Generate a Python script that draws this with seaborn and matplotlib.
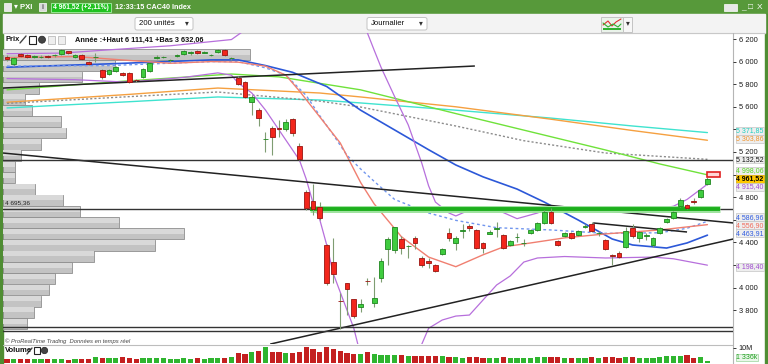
import matplotlib
matplotlib.use("Agg")
import matplotlib.pyplot as plt
import matplotlib.transforms as mtransforms
from matplotlib.patches import Rectangle, FancyBboxPatch, Circle
import numpy as np
import pandas as pd
import seaborn as sns

W, H = 768, 364

# ---------------- data (CAC40 daily) ----------------
opens = [6040, 5979, 6067, 6058, 6045, 6041, 6050, 6055, 6067, 6090,
         6045, 6058, 5996, 6040, 5926, 5890, 5917, 5899, 5899, 5840,
         5864, 5917, 6035, 6041, 6010, 6050, 6067, 6080, 6094, 6080,
         6055, 6085, 6105, 6030, 5855, 5819, 5642, 5572, 5315, 5412,
         5408, 5404, 5492, 5253, 4846, 4766, 4713, 4377, 4226, 3885,
         4041, 3899, 3828, 4062, 3864, 4085, 4342, 4333, 4430, 4365,
         4439, 4262, 4235, 4200, 4297, 4483, 4395, 4505, 4545, 4510,
         4395, 4474, 4522, 4465, 4377, 4448, 4395, 4483, 4510, 4572,
         4670, 4412, 4457, 4483, 4465, 4540, 4563, 4483, 4421, 4285,
         4306, 4359, 4527, 4439, 4457, 4377, 4483, 4580, 4616, 4722,
         4730, 4766, 4802, 4917]
closes = [6023, 6032, 6050, 6041, 6050, 6045, 6043, 6060, 6103, 6080,
          6055, 6023, 5979, 6043, 5864, 5926, 5952, 5881, 5819, 5837,
          5934, 5988, 6041, 6043, 6014, 6058, 6095, 6085, 6076, 6085,
          6060, 6105, 6058, 6032, 5802, 5687, 5687, 5501, 5318, 5333,
          5400, 5465, 5368, 5138, 4704, 4696, 4616, 4041, 4120, 3881,
          3988, 3749, 3855, 4054, 3908, 4235, 4430, 4536, 4350, 4370,
          4395, 4200, 4218, 4147, 4342, 4439, 4439, 4510, 4527, 4350,
          4350, 4492, 4527, 4350, 4412, 4450, 4398, 4510, 4572, 4670,
          4572, 4377, 4483, 4439, 4500, 4545, 4501, 4486, 4342, 4280,
          4271, 4501, 4457, 4492, 4460, 4439, 4527, 4607, 4670, 4775,
          4704, 4760, 4864, 4961.52]
highs = [6060, 6045, 6078, 6066, 6062, 6055, 6060, 6070, 6110, 6098,
         6065, 6070, 6005, 6075, 5935, 5935, 5960, 5910, 5905, 5850,
         5940, 5995, 6055, 6052, 6025, 6068, 6102, 6095, 6100, 6092,
         6068, 6111, 6108, 6045, 5870, 5825, 5700, 5590, 5380, 5430,
         5480, 5490, 5500, 5280, 4860, 4920, 4760, 4390, 4440, 3952,
         4045, 3900, 3900, 4085, 4094, 4260, 4450, 4540, 4460, 4375,
         4460, 4280, 4260, 4210, 4350, 4530, 4455, 4560, 4560, 4520,
         4400, 4510, 4580, 4470, 4420, 4480, 4430, 4520, 4580, 4690,
         4700, 4420, 4490, 4490, 4510, 4560, 4580, 4500, 4430, 4300,
         4320, 4540, 4560, 4500, 4480, 4450, 4535, 4615, 4680, 4790,
         4740, 4790, 4870, 4980]
lows = [6005, 5965, 6040, 6030, 6035, 6030, 6032, 6045, 6060, 6070,
        6035, 6015, 5970, 6000, 5850, 5880, 5905, 5870, 5810, 5820,
        5855, 5905, 6025, 6030, 5998, 6040, 6060, 6060, 6068, 6072,
        6048, 6078, 6050, 6010, 5790, 5675, 5530, 5430, 5200, 5170,
        5330, 5390, 5340, 5130, 4690, 4640, 4600, 4020, 4040, 3632,
        3760, 3730, 3780, 4020, 3830, 4050, 4200, 4310, 4300, 4260,
        4340, 4180, 4170, 4140, 4290, 4410, 4330, 4440, 4500, 4340,
        4310, 4470, 4450, 4340, 4370, 4400, 4370, 4470, 4500, 4560,
        4560, 4370, 4450, 4430, 4455, 4530, 4490, 4460, 4335, 4200,
        4260, 4350, 4440, 4400, 4420, 4360, 4475, 4570, 4605, 4715,
        4695, 4740, 4795, 4910]
volumes = [2.6, 2.8, 2.4, 2.7, 2.5, 2.6, 2.9, 2.6, 2.5, 2.2,
           2.4, 2.6, 2.9, 4.3, 3.3, 3.3, 3.2, 3.8, 3.4, 2.9,
           3.2, 3.5, 3.1, 3.3, 2.8, 3.0, 3.4, 3.0, 3.2, 2.9,
           3.1, 3.5, 3.6, 3.9, 6.4, 6.0, 7.1, 7.9, 10.5, 7.6,
           7.1, 6.7, 6.4, 7.1, 10.7, 9.5, 7.1, 10.5, 9.5, 8.3,
           6.7, 6.0, 6.0, 7.6, 6.0, 5.5, 5.6, 5.4, 5.5, 4.8,
           4.9, 4.6, 4.7, 4.8, 4.5, 3.9, 3.7, 3.6, 3.8, 4.0,
           3.5, 3.4, 3.6, 3.9, 3.3, 3.5, 3.2, 3.6, 3.8, 4.1,
           4.0, 3.7, 3.4, 3.5, 3.3, 3.6, 3.9, 3.4, 3.8, 4.0,
           3.6, 4.2, 3.9, 3.5, 3.3, 3.6, 3.8, 4.6, 4.9, 4.7,
           5.5, 3.6, 4.0, 1.336]

# volume-by-price profile (25 bins between yearly low and high), top bin first
year_high = 6111.41
year_low = 3632.06
profile_volume = [247, 112, 79, 36, 22, 29, 58, 63, 38, 18, 12, 12, 32,
                  60, 77, 116, 181, 152, 91, 69, 52, 46, 38, 31, 24]

# indicator lines: (candle index, price)
ma20_idx = [0, 10, 18, 24, 30, 34, 38, 41, 43, 46, 49, 52, 54, 58, 62, 66, 70, 73, 77, 82, 88, 96, 103]
ma20_val = [6035, 6045, 6010, 5985, 6000, 5995, 5960, 5880, 5740, 5510, 5280, 4930, 4740, 4450,
            4270, 4185, 4290, 4360, 4395, 4440, 4475, 4510, 4557]
ma50_idx = [0, 15, 30, 34, 38, 42, 47, 52, 57, 62, 66, 70, 75, 79, 84, 89, 92, 97, 100, 103]
ma50_val = [5950, 5980, 6015, 6015, 5965, 5905, 5780, 5570, 5395, 5220, 5085, 4980, 4872, 4757,
            4598, 4430, 4377, 4350, 4395, 4464]
ema_idx = [0, 15, 30, 34, 38, 41, 44, 46, 48, 50, 52, 54, 57, 62, 66, 72, 80, 88, 96, 100, 103]
ema_val = [5960, 5965, 6000, 6000, 5945, 5880, 5700, 5520, 5350, 5170, 5050, 4940, 4780, 4660,
           4595, 4530, 4510, 4480, 4485, 4525, 4587]
ma100_idx = [0, 18, 33, 40, 52, 66, 80, 88, 96, 103]
ma100_val = [5750, 5830, 5890, 5865, 5750, 5540, 5335, 5218, 5094, 4998.06]
orange_idx = [0, 18, 31, 46, 52, 66, 80, 92, 103]
orange_val = [5640, 5710, 5766, 5722, 5687, 5600, 5490, 5390, 5303.86]
cyan_idx = [0, 18, 31, 46, 52, 66, 80, 92, 103]
cyan_val = [5590, 5645, 5687, 5660, 5634, 5570, 5500, 5430, 5371.85]
gray_idx = [0, 18, 31, 46, 52, 66, 76, 88, 103]
gray_val = [5630, 5690, 5731, 5650, 5598, 5430, 5300, 5191, 5135]
bb_up_idx = [0, 8, 14, 24, 33, 35, 37, 40, 47, 52, 53, 54, 55, 57, 59, 61, 62, 63, 65, 66, 68,
             72, 75, 78, 80, 90, 96, 98, 100, 102, 103]
bb_up_val = [6070, 6075, 6100, 6140, 6195, 6280, 6450, 6800, 7200, 6500, 6253, 6100, 5950, 5690,
             5440, 5100, 4900, 4757, 4660, 4634, 4687, 4690, 4610, 4660, 4710, 4710, 4700, 4720,
             4780, 4870, 4915.40]
bb_lo_idx = [0, 10, 17, 20, 26, 31, 33, 34, 36, 38, 41, 43, 44, 45, 46, 47, 48, 50, 51, 52, 56,
             60, 61, 62, 64, 66, 68, 70, 72, 74, 76, 78, 82, 88, 95, 98, 103]
bb_lo_val = [5850, 5840, 5820, 5830, 5860, 5900, 5880, 5810, 5722, 5572, 5306, 5129, 4960, 4750,
             4600, 4380, 4120, 3800, 3640, 3400, 3000, 3200, 3500, 3640, 3713, 3748, 3757, 3890,
             4023, 4103, 4226, 4262, 4275, 4262, 4270, 4255, 4198.40]

# drawn trend lines and levels (index, price)
trend_top_idx = [-0.6, 68.8]
trend_top_val = [5766, 5961]
trend_down_idx = [-0.6, 106.8]
trend_down_val = [5191, 4572]
trend_support_idx = [38.7, 106.8]
trend_support_val = [3500, 4430]
trend_short_idx = [86.2, 100.0]
trend_short_val = [4572, 4492]
levels = [5132.52, 4695.36, 3652, 3615]
green_zone = 4695.36
green_zone_idx = [44.6, 104.9]

# right-hand value tags: (text, colour)
tag_texts = ["5 371,85", "5 303,86", "5 132,52", "4 998,06", "4 961,52",
             "4 915,40", "4 586,96", "4 556,90", "4 463,91", "4 198,40"]
tag_colors = ["#1fd0c0", "#f0922a", "#111111", "#55d41e", "#000000",
              "#a04ad0", "#2f5be0", "#f06a5a", "#2f5be0", "#a04ad0"]
# where the platform stacks the tags on the price scale (spread apart to avoid overlap)
tag_pos = [5388, 5317, 5132.52, 5032, 4961.52, 4890, 4624, 4553, 4482, 4182]

# ---------------- styling ----------------
sns.set_theme(style="white")
plt.rcParams['font.family'] = ['Liberation Sans', 'DejaVu Sans']

fig = plt.figure(figsize=(W / 100, H / 100), dpi=100)
fig.patch.set_facecolor("white")


def px_axes(x0, y0, x1, y1):
    return fig.add_axes([x0 / W, 1 - y1 / H, (x1 - x0) / W, (y1 - y0) / H])


# background / chrome in pixel coordinates
bg = px_axes(0, 0, W, H)
bg.set_xlim(0, W)
bg.set_ylim(H, 0)
bg.axis("off")
bg.set_zorder(-5)
bg.add_patch(Rectangle((0, 0), W, 14, color="#57993a"))
bg.add_patch(Rectangle((0, 14), 3, H - 14, color="#4f8d33"))
bg.add_patch(Rectangle((765, 14), 3, H - 14, color="#4f8d33"))
bg.add_patch(Rectangle((3, 14), 762, 19, color="#f3f3f3"))
bg.plot([3, 765], [33, 33], color="#c8c8c8", lw=0.8)
bg.plot([3, 733], [344.5, 344.5], color="#bdbdbd", lw=0.8)
bg.plot([733, 733], [33, 364], color="#b5b5b5", lw=0.8)

# top bar
bg.add_patch(Rectangle((4, 3), 7, 8, fc="#e6e6e6", ec="#ffffff", lw=0.5))
bg.text(14, 7.3, "▾ PXI", color="white", fontsize=5.6, va="center", fontweight="bold")
bg.add_patch(Rectangle((39, 3), 7, 8, fc="#d9d9d9", ec="#ffffff", lw=0.5))
bg.text(42.5, 7.3, "i", color="#555555", fontsize=5, va="center", ha="center", fontweight="bold")
bg.add_patch(Rectangle((51, 2.5), 60, 9.5, fc="#1fc21f", ec="#a6f0a6", lw=0.6))
bg.text(81, 7.4, "4 961,52 (+2,11%)", color="white", fontsize=4.9, va="center", ha="center",
        fontweight="bold")
bg.text(115, 7.4, "12:33:15 CAC40 Index", color="white", fontsize=5.2, va="center", fontweight="bold")
bg.add_patch(Rectangle((724, 4), 13, 7, fc="#e8e8e8", ec="#ffffff", lw=0.5))
bg.text(741, 7.6, "_", color="white", fontsize=6, va="center")
bg.text(748, 7.6, "□", color="white", fontsize=6, va="center")
bg.text(757, 7.6, "X", color="white", fontsize=6, va="center")

# toolbar
bg.add_patch(FancyBboxPatch((135, 17.5), 58, 12.5, boxstyle="round,pad=0,rounding_size=2",
                            fc="white", ec="#c3c3c3", lw=0.7))
bg.text(139, 23.9, "200 unités", fontsize=5.6, va="center", color="#111111")
bg.text(187, 23.9, "▾", fontsize=5.5, va="center", ha="center", color="#333333")
bg.add_patch(FancyBboxPatch((367, 17.5), 60, 12.5, boxstyle="round,pad=0,rounding_size=2",
                            fc="white", ec="#c3c3c3", lw=0.7))
bg.text(371, 23.9, "Journalier", fontsize=5.6, va="center", color="#111111")
bg.text(421, 23.9, "▾", fontsize=5.5, va="center", ha="center", color="#333333")
bg.add_patch(Rectangle((601, 16.5), 22, 15, fc="#eaf3ea", ec="#c3c3c3", lw=0.7))
bg.plot([603, 608, 612, 616, 621], [25, 21, 26, 22, 19], color="#e03030", lw=0.8)
bg.plot([603, 608, 613, 618, 621], [23, 27, 24, 27, 24], color="#30b030", lw=0.8)
bg.add_patch(Rectangle((603, 28), 18, 2, fc="#30b030", lw=0))
bg.add_patch(Rectangle((623, 16.5), 9, 15, fc="#f7f7f7", ec="#c3c3c3", lw=0.7))
bg.text(627.5, 24, "▾", fontsize=5.5, va="center", ha="center", color="#333333")

# ---------------- price panel ----------------
YLO, YHI = 3500.75, 6253.1
XLO, XHI = -0.59, 106.76

ax_prof = px_axes(3, 33, 733, 344)
n_bins = len(profile_volume)
bin_h = (year_high - year_low) / n_bins
bin_centers = year_high - bin_h * (np.arange(n_bins) + 0.5)
ax_prof.barh(bin_centers, profile_volume, height=bin_h * 0.97, left=0,
             color="#c3c3c3", edgecolor="#8f8f8f", linewidth=0.6)
ax_prof.barh(bin_centers + bin_h * 0.22, profile_volume, height=bin_h * 0.45, left=0,
             color="#d9d9d9", linewidth=0)
ax_prof.set_xlim(0, max(profile_volume) / 0.338)
ax_prof.set_ylim(YLO, YHI)
ax_prof.axis("off")

ax = px_axes(3, 33, 733, 344)
ax.patch.set_alpha(0)

idx = np.arange(len(closes))
o = np.array(opens, float)
c = np.array(closes, float)
hi = np.array(highs, float)
lo = np.array(lows, float)
up = c >= o

# indicator lines via seaborn
line_specs = [
    (cyan_idx, cyan_val, "#3fe3cf", "-", 1.0),
    (orange_idx, orange_val, "#f5a040", "-", 1.0),
    (gray_idx, gray_val, "#8c8c8c", (0, (1.5, 1.5)), 1.0),
    (ma100_idx, ma100_val, "#6fe23a", "-", 1.0),
    (ma50_idx, ma50_val, "#2c58d8", "-", 1.2),
    (ema_idx, ema_val, "#7196ee", (0, (2, 2)), 1.0),
    (ma20_idx, ma20_val, "#f07f70", "-", 1.0),
    (bb_up_idx, bb_up_val, "#b76fdc", "-", 0.9),
    (bb_lo_idx, bb_lo_val, "#b76fdc", "-", 0.9),
]
for xs, ys, col, ls, lw in line_specs:
    sns.lineplot(x=xs, y=ys, ax=ax, color=col, linestyle=ls, linewidth=lw, zorder=3, legend=False)

# trend lines and levels
for xs, ys in [(trend_top_idx, trend_top_val), (trend_down_idx, trend_down_val),
               (trend_support_idx, trend_support_val), (trend_short_idx, trend_short_val)]:
    ax.plot(xs, ys, color="#222222", lw=1.1, zorder=3.5, solid_capstyle="butt")
for lv in levels:
    ax.axhline(lv, color="#333333", lw=1.0, zorder=3.5)
ax.plot(green_zone_idx, [green_zone, green_zone], color="#9fe39f", lw=5.0, zorder=3.6,
        solid_capstyle="butt")
ax.plot(green_zone_idx, [green_zone, green_zone], color="#1caf1c", lw=2.8, zorder=3.7,
        solid_capstyle="butt")

# candles
ax.vlines(idx, lo, hi, color="#7f9d72", lw=0.8, zorder=4)
body_lo = np.minimum(o, c)
body_h = np.maximum(np.abs(c - o), 4)
ax.bar(idx[up], body_h[up], bottom=body_lo[up], width=0.72, color="#3fcc3f",
       edgecolor="#1f861f", linewidth=0.6, zorder=5)
ax.bar(idx[~up], body_h[~up], bottom=body_lo[~up], width=0.72, color="#f2261c",
       edgecolor="#9a1410", linewidth=0.6, zorder=5)

# last price marker box
ax.add_patch(Rectangle((102.9, 4979), 2.0, 44, fc="#ffd6d6", ec="#e02020", lw=1.2, zorder=6))

ax.set_xlim(XLO, XHI)
ax.set_ylim(YLO, YHI)
ax.set_xlabel("")
ax.set_ylabel("")
ax.set_xticks([])
ax.yaxis.tick_right()
yt = np.arange(3800, 6201, 200)
hidden_ticks = {5400, 5000, 4600, 4200}
ax.set_yticks(yt)
ax.set_yticklabels(["" if v in hidden_ticks else f"{v:,}".replace(",", " ") for v in yt])
ax.tick_params(axis="y", labelsize=5.4, length=2.5, pad=1.5, colors="#1a1a1a", width=0.6)
for s in ["left", "top", "bottom", "right"]:
    ax.spines[s].set_visible(False)

trans = mtransforms.blended_transform_factory(ax.transAxes, ax.transData)
for pos, txt, col in zip(tag_pos, tag_texts, tag_colors):
    if txt == "4 961,52":
        fc, ec, fw = "#ffc800", "#d8a800", "bold"
    else:
        fc, ec, fw = "#eeeeee", "#c4c4c4", "normal"
    ax.text(1.004, pos, txt, transform=trans, fontsize=5.0, color=col, ha="left", va="center",
            fontweight=fw, zorder=20, clip_on=False,
            bbox=dict(boxstyle="square,pad=0.05", fc=fc, ec=ec, lw=0.5))

ax.text(0.003, green_zone + 55, "4 695,36", transform=trans, fontsize=4.6, color="#222222",
        ha="left", va="center", zorder=8)
ax.text(0.003, 3527, "© ProRealTime Trading  Données en temps réel", transform=trans,
        fontsize=4.2, style="italic", color="#444444", ha="left", va="center", zorder=8)

# "Prix" header row
bg.text(5, 39.7, "Prix", fontsize=5.4, va="center", color="#111111", fontweight="bold")
bg.plot([20, 26], [43, 36], color="#444444", lw=1.0)
bg.add_patch(Rectangle((29, 35.5), 7, 8, fc="white", ec="#222222", lw=0.8))
bg.add_patch(Circle((42, 39.7), 3.5, fc="#444444", ec="#222222", lw=0.5))
bg.add_patch(Rectangle((48, 35.5), 7, 8, fc="#eeeeee", ec="#bbbbbb", lw=0.6))
bg.add_patch(Rectangle((58, 35.5), 7, 8, fc="#eeeeee", ec="#bbbbbb", lw=0.6))
bg.text(75, 39.9, "Année :+Haut 6 111,41 +Bas 3 632,06", fontsize=5.3, va="center",
        color="#111111", fontweight="bold")

# ---------------- volume panel ----------------
axv = px_axes(3, 345, 733, 363)
vol_df = pd.DataFrame({"idx": idx, "vol": volumes, "dir": np.where(up, "up", "down")})
sns.barplot(data=vol_df, x="idx", y="vol", hue="dir", palette={"up": "#2fb52f", "down": "#c42020"},
            native_scale=True, width=0.75, saturation=1, dodge=False, legend=False,
            errorbar=None, linewidth=0, ax=axv)
axv.set_xlim(XLO, XHI)
axv.set_ylim(0, 12.0)
axv.set_xlabel("")
axv.set_ylabel("")
axv.set_xticks([])
axv.yaxis.tick_right()
axv.set_yticks([10])
axv.set_yticklabels(["10M"])
axv.tick_params(axis="y", labelsize=5.2, length=2.5, pad=1.5, colors="#1a1a1a", width=0.6)
for s in ["left", "top", "bottom", "right"]:
    axv.spines[s].set_visible(False)
axv.patch.set_alpha(0)
axv.text(1.004, 0.30, "1 336k", transform=axv.transAxes, fontsize=5.0, color="#20a020",
         ha="left", va="center", zorder=20, clip_on=False,
         bbox=dict(boxstyle="square,pad=0.05", fc="#eaf7ea", ec="#9ad49a", lw=0.5))
bg.text(5, 351, "Volume", fontsize=5.6, va="center", color="#111111", fontweight="bold")
bg.plot([27, 32], [354, 348], color="#444444", lw=1.0)
bg.add_patch(Rectangle((34, 347), 6, 7, fc="white", ec="#222222", lw=0.8))
bg.add_patch(Circle((44.5, 350.5), 3.2, fc="#444444", ec="#222222", lw=0.5))

fig.savefig("out.png", dpi=100, facecolor=fig.get_facecolor())
